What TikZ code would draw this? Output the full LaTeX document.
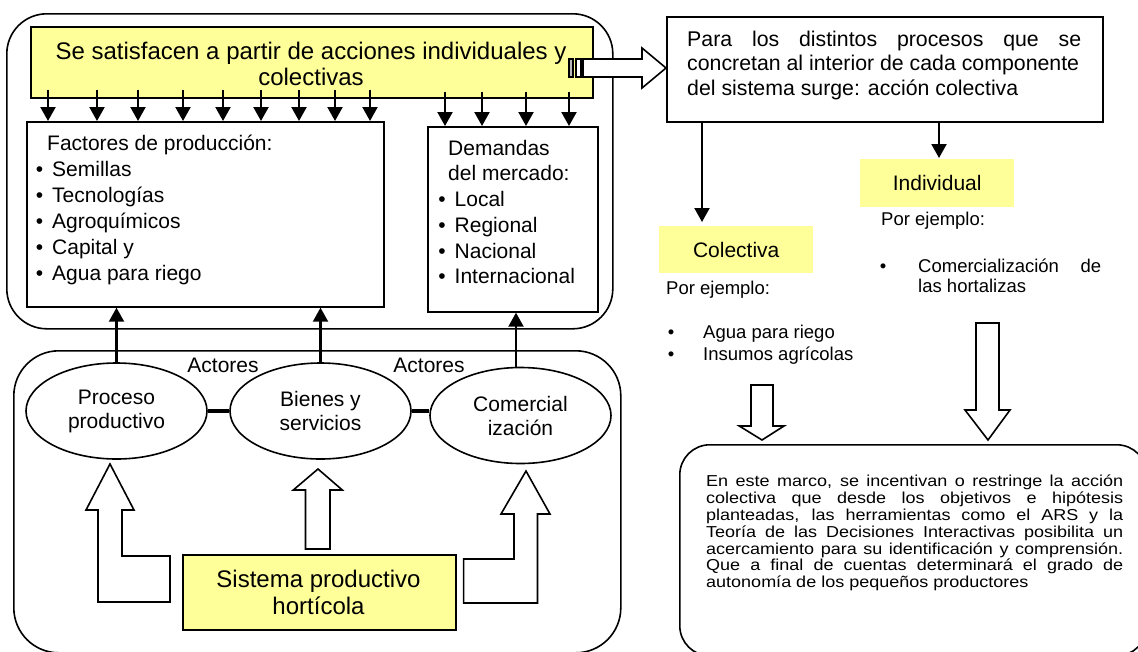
\documentclass[tikz,border=0pt]{standalone}
\usepackage{fontspec}
\usepackage{graphicx}
\setmainfont{Liberation Sans}
\usetikzlibrary{arrows.meta,shapes.geometric,calc}
\definecolor{lyellow}{RGB}{255,255,153}
\newcommand{\fsz}[2]{\fontsize{#1}{#2}\selectfont}
\begin{document}
\begin{tikzpicture}[x=1pt,y=-1pt,
  box/.style={draw, line width=1.7pt, inner sep=0pt, anchor=north west},
  rbox/.style={draw, line width=1.6pt, inner sep=0pt, anchor=north west},
  ybox/.style={fill=lyellow, inner sep=0pt, anchor=north west, font=\fsz{21}{24}},
  ell/.style={draw, ellipse, line width=1.6pt, inner sep=0pt, align=center,
              minimum width=181pt, minimum height=96pt, font=\fsz{21}{24}},
  arr/.style={line width=2.1pt, -{Triangle[width=15pt,length=14pt]}},
  hol/.style={draw, line width=1.6pt, fill=white, line join=miter},
  link/.style={line width=4pt},
  tb/.style={inner sep=0pt, anchor=base},
  tw/.style={inner sep=0pt, anchor=base west},
  t24/.style={font=\fsz{24}{26}},
  t21/.style={font=\fsz{21}{24}},
  t18/.style={font=\fsz{18.5}{22}}]
\useasboundingbox (0,0) rectangle (1138,651);
\clip (0,0) rectangle (1138,651);

% ---------- upper left group ----------
\node[rbox, rounded corners=40pt, minimum width=606pt, minimum height=315pt] (outer) at (6,13) {};
\node[box, fill=lyellow, minimum width=562pt, minimum height=71pt] (top) at (30,26) {};
\node[tb, t24] (t1) at (311,59) {Se satisfacen a partir de acciones individuales y};
\node[tb, t24] (t2) at (311,85) {colectivas};

\node[box, minimum width=357pt, minimum height=185pt] (fact) at (26,121) {};
\node[box, minimum width=170pt, minimum height=185pt] (dem) at (427,126) {};

\foreach \x in {48,97,138,183,223,261,299,335,370}
  \draw[arr] ($(\x,0 |- top.south)+(0,-9)$) -- (\x,0 |- fact.north);
\foreach \x in {445,482,526,569}
  \draw[arr] ($(\x,0 |- top.south)+(0,-7)$) -- (\x,0 |- dem.north);

\node[tw, t21] (fh) at (47,150.3) {Factores de producción:};
\foreach \y/\t [count=\i] in {176.3/Semillas,202.3/Tecnologías,228.3/Agroquímicos,254.3/Capital y,280.3/Agua para riego}{
  \node[tb, t21] (fb\i) at (39.5,\y) {\textbullet};
  \node[tw, t21] (ft\i) at (52,\y) {\t};
}
\node[tw, t21] (dh1) at (448,155.3) {Demandas};
\node[tw, t21] (dh2) at (448,180.8) {del mercado:};
\foreach \y/\t [count=\i] in {206.3/Local,232.3/Regional,258.3/Nacional,283.8/Internacional}{
  \node[tb, t21] (db\i) at (442,\y) {\textbullet};
  \node[tw, t21] (dt\i) at (454.5,\y) {\t};
}

% ---------- lower left group ----------
\node[rbox, rounded corners=45pt, minimum width=607pt, minimum height=302pt] (lower) at (13,350) {};
\node[ell] (pp) at (116.5,411) {Proceso\\productivo};
\node[ell] (bs) at (320.5,411) {Bienes y\\servicios};
\node[ell] (co) at (520.5,415.5) {Comercial\\ización};
\draw[link] (pp.east) -- (bs.west);
\draw[link] (bs.east) -- (bs.east -| co.west);
\node[tb, t21] (a1) at (223,372.3) {Actores};
\node[tb, t21] (a2) at (429,372.3) {Actores};

\draw[arr] (pp.north) -- (pp.north |- fact.south);
\draw[arr] (bs.north) -- (bs.north |- fact.south);
\draw[arr] (516,0 |- co.north) -- (516,0 |- dem.south);

\node[box, fill=lyellow, minimum width=273pt, minimum height=75pt] (sis) at (182,554) {};
\node[tb, t24] (s1) at (318.5,587.2) {Sistema productivo};
\node[tb, t24] (s2) at (318.5,614.2) {hortícola};

\draw[hol] (110,464) -- (134,510) -- (122,510) -- (122,556) -- (170,556) -- (170,602)
  -- (98,602) -- (98,510) -- (86,510) -- cycle;
\draw[hol] (318,469) -- (342.3,490) -- (330,490) -- (330,549) -- (305.5,549)
  -- (305.5,490) -- (293.3,490) -- cycle;
\draw[hol] (526,471) -- (550,514) -- (537.5,514) -- (537.5,603) -- (463.6,603)
  -- (463.6,559) -- (514,559) -- (514,514) -- (501,514) -- cycle;

% ---------- striped arrow to the right box ----------
\draw[line width=1.2pt, fill=gray!55] (569,59) rectangle (573,77);
\draw[line width=1.2pt, fill=white] (576,59) rectangle (581,77);
\draw[hol] (583,59) -- (642,59) -- (642,48) -- (666,68) -- (642,88) -- (642,77) -- (583,77) -- cycle;

% ---------- right part ----------
\node[box, minimum width=436pt, minimum height=105pt] (rb) at (666,16) {};
\node[tw] (rbt) at (687,46.4) {\parbox[t]{394pt}{\fsz{21.3}{24.5}%
  \makebox[394pt][s]{Para los distintos procesos que se}\\
  concretan al interior de cada componente\\
  del sistema surge: acción colectiva}};

\node[ybox, minimum width=154pt, minimum height=47pt] (col) at (659,226) {Colectiva};
\node[ybox, minimum width=154pt, minimum height=48pt] (ind) at (860,159) {Individual};
\draw[arr, shorten >=4pt] (702,0 |- rb.south) -- (702,0 |- col.north);
\draw[arr, shorten >=1pt] (939,0 |- rb.south) -- (939,0 |- ind.north);

\node[tw, t18] (pe1) at (881,225.5) {Por ejemplo:};
\node[tb, t18] (ib1) at (883,272.5) {\textbullet};
\node[tw, t18] (it1) at (918,272.5) {\makebox[183pt][s]{Comercialización de}};
\node[tw, t18] (it2) at (918,292.5) {las hortalizas};

\node[tw, t18] (pe2) at (666,294.5) {Por ejemplo:};
\node[tb, t18] (cb1) at (671,338.5) {\textbullet};
\node[tw, t18] (ct1) at (703,338.5) {Agua para riego};
\node[tb, t18] (cb2) at (671,360.5) {\textbullet};
\node[tw, t18] (ct2) at (703,360.5) {Insumos agrícolas};

\draw[hol] (751,385) -- (773,385) -- (773,426) -- (784,426) -- (762,440) -- (739.3,426)
  -- (751,426) -- cycle;
\draw[hol] (976,323) -- (999,323) -- (999,410) -- (1010,410) -- (988,440) -- (965,410)
  -- (976,410) -- cycle;

\node[rbox, rounded corners=30pt, minimum width=467pt, minimum height=211pt] (br) at (679,444) {};
\node[tw] (brt) at (706,486.8) {\scalebox{1}[0.88]{\parbox[t]{417pt}{\fsz{18}{19.1}%
  \makebox[417pt][s]{En este marco, se incentivan o restringe la acción}\\
  \makebox[417pt][s]{colectiva que desde los objetivos e hipótesis}\\
  \makebox[417pt][s]{planteadas, las herramientas como el ARS y la}\\
  \makebox[417pt][s]{Teoría de las Decisiones Interactivas posibilita un}\\
  \makebox[417pt][s]{acercamiento para su identificación y comprensión.}\\
  \makebox[417pt][s]{Que a final de cuentas determinará el grado de}\\
  autonomía de los pequeños productores}}};
\end{tikzpicture}
\end{document}
